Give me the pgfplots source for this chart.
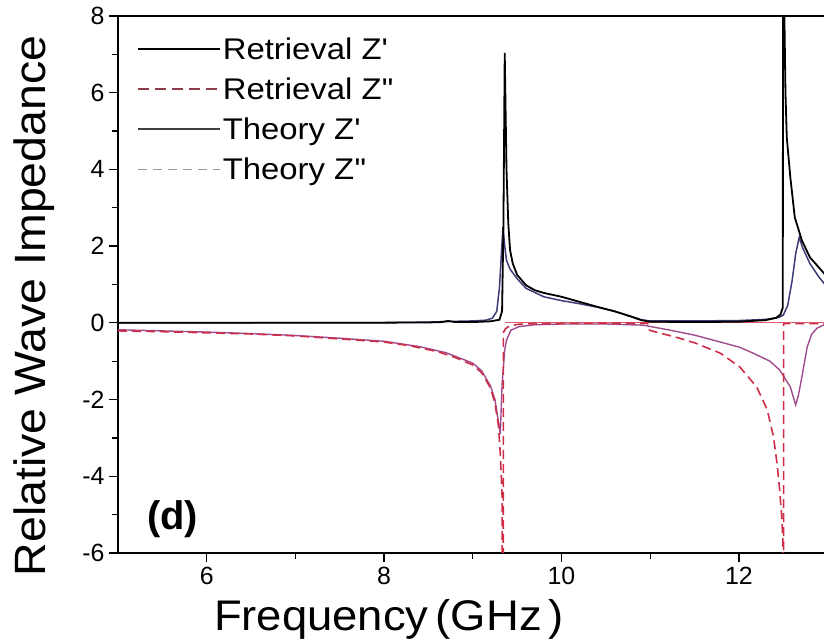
\documentclass[border=0pt]{standalone}
\usepackage{pgfplots}
\pgfplotsset{compat=1.18}
\usepackage{fontspec}
\setmainfont{Liberation Sans}
\definecolor{retZ2}{RGB}{205,45,70}
\definecolor{thZ1}{RGB}{60,60,120}
\definecolor{thZ2}{RGB}{160,75,140}
\definecolor{legRet2}{RGB}{140,60,75}
\definecolor{zeroRed}{RGB}{225,90,110}
\begin{document}
\begin{tikzpicture}
\begin{axis}[
  width=709.6bp, height=537bp, scale only axis,
  xmin=5, xmax=13, ymin=-6, ymax=8,
  xtick={6,8,10,12}, minor xtick={7,9,11},
  ytick={-6,-4,-2,0,2,4,6,8}, minor ytick={-5,-3,-1,1,3,5,7},
  xtick pos=bottom, ytick pos=left,
  tick align=outside,
  major tick length=9bp, minor tick length=6bp,
  every tick/.style={black, line width=1.3bp},
  axis line style={line width=1.6bp},
  /pgf/number format/assume math mode=true,
  tick label style={font=\fontsize{25}{25}\selectfont},
  xticklabel style={yshift=-2bp},
  yticklabel style={xshift=-1bp},
  xlabel={Frequency\,(GHz\,)},
  ylabel={Relative Wave Impedance},
  xlabel style={font=\fontsize{43}{43}\selectfont\addfontfeatures{FakeStretch=1.06}, at={(axis description cs:0.382,-0.1434)}, anchor=base},
  ylabel style={font=\fontsize{44}{44}\selectfont\addfontfeatures{FakeStretch=1.06}, at={(axis description cs:-0.118,0.46)}, anchor=center},
  legend style={at={(axis description cs:0.022,0.968)}, anchor=north west, draw=none, fill=none,
    font=\fontsize{30}{31}\selectfont\addfontfeatures{FakeStretch=1.1}, row sep=13bp, nodes={inner sep=2bp}},
  legend cell align=left,
  legend image code/.code={\draw[#1] (0bp,0bp) -- (75bp,0bp); \path (0bp,0bp) -- (82bp,0bp);},
]
% zero reference (red, along zero)
\addplot[forget plot, zeroRed, line width=1.3bp] coordinates {(9.36,0) (13,0)};
% Theory Z''
\addplot[forget plot, thZ2, line width=1.4bp] coordinates {
(5,-0.18) (5.5,-0.21) (6,-0.24) (6.5,-0.28) (7,-0.33) (7.5,-0.40) (8,-0.48) (8.4,-0.62) (8.7,-0.78)
(9.0,-1.05) (9.1,-1.25) (9.2,-1.65) (9.25,-2.0) (9.29,-2.6) (9.31,-2.9) (9.33,-1.6) (9.36,-0.7)
(9.38,-0.45) (9.43,-0.19) (9.52,-0.10) (9.7,-0.05) (10.0,-0.03) (10.5,-0.03) (10.92,-0.06)
(11.2,-0.18) (11.5,-0.32) (11.79,-0.50) (12.0,-0.63) (12.16,-0.79) (12.35,-1.0) (12.46,-1.23)
(12.58,-1.67) (12.64,-2.14) (12.67,-1.9) (12.71,-1.41) (12.77,-0.63) (12.82,-0.30) (12.88,-0.14)
(12.96,-0.05) (13,-0.04)};
% Retrieval Z''
\addplot[forget plot, retZ2, line width=1.6bp, dash pattern=on 9bp off 5bp] coordinates {
(5,-0.21) (5.5,-0.23) (6,-0.26) (6.5,-0.29) (7,-0.34) (7.5,-0.42) (8,-0.50) (8.3,-0.60) (8.6,-0.75)
(8.8,-0.90) (9.0,-1.10) (9.1,-1.30) (9.2,-1.70) (9.25,-2.1) (9.29,-2.7) (9.31,-3.4) (9.33,-4.5)
(9.34,-20) (9.345,-0.25) (9.37,-0.15) (9.4,-0.10) (9.5,-0.04) (9.7,-0.02) (10.5,-0.01) (10.97,-0.01)
(10.99,-0.18) (11.0,-0.20) (11.3,-0.38) (11.5,-0.52) (11.79,-0.79) (12.01,-1.15) (12.2,-1.67)
(12.32,-2.27) (12.39,-2.97) (12.43,-3.67) (12.46,-4.37) (12.48,-4.97) (12.495,-5.6) (12.5,-20)
(12.505,-0.02) (13,-0.02)};
% Theory Z'
\addplot[forget plot, thZ1, line width=1.5bp] coordinates {
(5,0) (8.0,0.005) (8.5,0.02) (8.8,0.04) (9.0,0.05) (9.15,0.07) (9.22,0.12) (9.27,0.3) (9.30,0.9)
(9.32,1.7) (9.34,2.5) (9.36,2.0) (9.38,1.63) (9.42,1.40) (9.5,1.15) (9.6,0.90) (9.8,0.68) (10.0,0.58)
(10.2,0.50) (10.4,0.41) (10.6,0.30) (10.8,0.16) (10.9,0.08) (11.0,0.05) (11.5,0.05) (12.0,0.06)
(12.3,0.09) (12.45,0.14) (12.5,0.20) (12.55,0.45) (12.6,1.1) (12.64,1.8) (12.68,2.23) (12.72,1.95)
(12.8,1.55) (12.9,1.20) (12.96,1.03) (13,1.0)};
% Retrieval Z'
\addplot[forget plot, black, line width=1.8bp] coordinates {
(5,0) (6,0) (7,0) (8,0.005) (8.5,0.01) (8.65,0.02) (8.72,0.05) (8.8,0.02) (9.0,0.02) (9.2,0.04)
(9.3,0.08) (9.33,0.3) (9.345,2.5) (9.36,7.04) (9.37,5.5) (9.38,4.0) (9.40,2.6) (9.42,1.9) (9.45,1.55)
(9.5,1.25) (9.6,0.98) (9.7,0.85) (9.8,0.78) (10.0,0.68) (10.2,0.55) (10.4,0.42) (10.6,0.30) (10.8,0.15)
(10.9,0.07) (11.0,0.03) (11.5,0.02) (12.0,0.03) (12.3,0.07) (12.42,0.13) (12.47,0.22) (12.495,0.4)
(12.5,20) (12.51,8.5) (12.525,6.0) (12.54,4.83) (12.58,3.79) (12.63,2.75) (12.71,2.15) (12.80,1.71)
(12.96,1.29) (13,1.25)};
% legend entries
\addlegendimage{black, line width=1.5bp}
\addlegendentry{Retrieval Z\textquotesingle}
\addlegendimage{legRet2, line width=2bp, dash pattern=on 11bp off 6bp}
\addlegendentry{Retrieval Z\textquotesingle\textquotesingle}
\addlegendimage{black!75, line width=1.5bp}
\addlegendentry{Theory Z\textquotesingle}
\addlegendimage{black!40, line width=1.3bp, dash pattern=on 9bp off 6bp}
\addlegendentry{Theory Z\textquotesingle\textquotesingle}
\node[font=\bfseries\fontsize{40}{40}\selectfont, anchor=base west, inner sep=0pt]
  at (axis description cs:0.041,0.043) {(d)};
\end{axis}
\pgfresetboundingbox
\path ([shift={(-118bp,-89bp)}]current axis.south west) rectangle ([shift={(706bp,16bp)}]current axis.north west);
\end{tikzpicture}
\end{document}
